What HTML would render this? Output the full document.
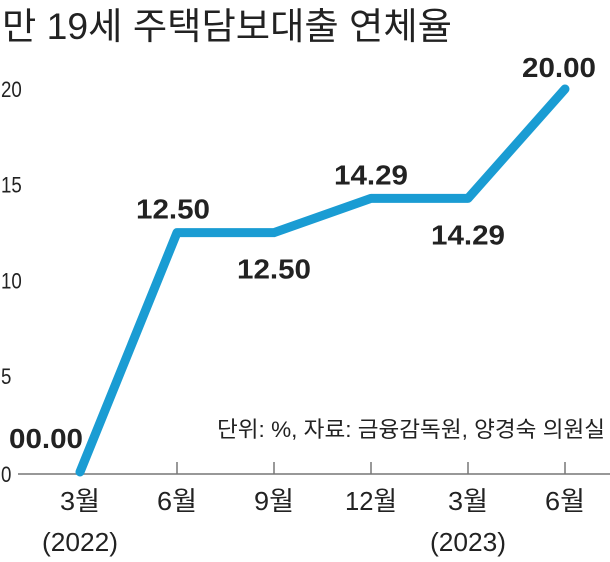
<!DOCTYPE html>
<html><head><meta charset="utf-8"><style>
html,body{margin:0;padding:0;background:#fff;width:610px;height:562px;overflow:hidden}
svg{display:block;font-family:"Liberation Sans","Noto Sans CJK KR",sans-serif}
</style></head><body>
<svg id="chart" width="610" height="562" viewBox="0 0 610 562">
<text x="2" y="39" font-size="37" fill="#222" textLength="450" lengthAdjust="spacingAndGlyphs">만 19세 주택담보대출 연체율</text>
<text x="217" y="437" font-size="22" fill="#222" textLength="388" lengthAdjust="spacingAndGlyphs">단위: %, 자료: 금융감독원, 양경숙 의원실</text>
<g id="axes"></g>
<g id="marks"></g>
</svg>
<script>
const categories = ["3월","6월","9월","12월","3월","6월"];
const years = ["(2022)","","","","(2023)",""];
const values = [0, 12.5, 12.5, 14.29, 14.29, 20];
const valueLabels = ["00.00","12.50","12.50","14.29","14.29","20.00"];
const yTicks = [0,5,10,15,20];
const NS="http://www.w3.org/2000/svg";
const x = i => 80 + i*97;
const y = v => 472 - v*19.15;
function mk(tag, attrs, parent, txt){const e=document.createElementNS(NS,tag);for(const k in attrs)e.setAttribute(k,attrs[k]);if(txt!==undefined)e.textContent=txt;parent.appendChild(e);return e;}
const axes=document.getElementById('axes'), marks=document.getElementById('marks');
const axis=mk('line',{x1:18,x2:610,y1:474,y2:474,stroke:'#777','stroke-width':1.5},axes);


yTicks.forEach(t=>{
  const e=mk('text',{x:0,y:y(t)+(t===0?10:8),'font-size':22,fill:'#222',transform:`translate(1 0) scale(0.85 1)`},axes,String(t));
  
  
});
categories.forEach((c,i)=>{
  if(i>0){const tk=mk('line',{x1:x(i),x2:x(i),y1:462,y2:474,stroke:'#777','stroke-width':1.5},axes);
  
  }
  const l=mk('text',{x:x(i),y:510,'font-size':26,fill:'#222','text-anchor':'middle',textLength:c.length>2?52:40,lengthAdjust:'spacingAndGlyphs'},axes,c);
  
  
  if(years[i]){const yl=mk('text',{x:x(i),y:551,'font-size':26,fill:'#222','text-anchor':'middle',textLength:76,lengthAdjust:'spacingAndGlyphs'},axes,years[i]);
  
  }
});
const pl=mk('polyline',{points:values.map((v,i)=>x(i)+','+y(v)).join(' '),fill:'none',stroke:'#1a9cd3','stroke-width':9,'stroke-linejoin':'round','stroke-linecap':'round'},marks);


const off=[[-34,-24],[-4,-14],[0,46],[0,-14],[0,46],[-6,-12]];
valueLabels.forEach((t,i)=>{
  const e=mk('text',{x:x(i)+off[i][0],y:y(values[i])+off[i][1],'font-size':28,'font-weight':'bold',fill:'#222','text-anchor':'middle',textLength:74,lengthAdjust:'spacingAndGlyphs'},marks,t);
  
  
});
</script>
</body></html>
